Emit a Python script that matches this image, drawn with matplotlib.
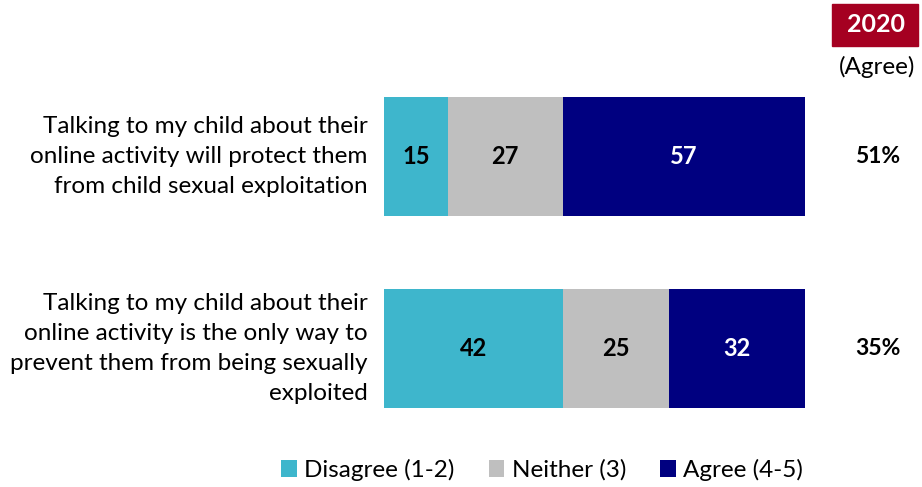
import matplotlib.pyplot as plt
from matplotlib.patches import Rectangle

plt.rcParams["font.family"] = ["Lato", "DejaVu Sans"]

statements = [
    "Talking to my child about their\nonline activity will protect them\nfrom child sexual exploitation",
    "Talking to my child about their\nonline activity is the only way to\nprevent them from being sexually\nexploited",
]
disagree = [15, 42]
neither = [27, 25]
agree = [57, 32]
agree_2020 = ["51%", "35%"]

series = [
    ("Disagree (1-2)", disagree, "#3eb6cc", "black"),
    ("Neither (3)", neither, "#bfbfbf", "black"),
    ("Agree (4-5)", agree, "#000080", "white"),
]

W, H = 922, 487
fig = plt.figure(figsize=(W / 100, H / 100), dpi=100)
ax = fig.add_axes([384 / W, (H - 408) / H, 425 / W, 311 / H])

ypos = list(range(len(statements)))
left = [0] * len(statements)
for name, vals, color, txt_color in series:
    bars = ax.barh(ypos, vals, left=left, height=0.62, color=color, label=name)
    for b, v in zip(bars, vals):
        ax.text(b.get_x() + b.get_width() / 2, b.get_y() + b.get_height() / 2,
                str(v), ha="center", va="center", color=txt_color,
                fontsize=17, fontweight="bold")
    left = [l + v for l, v in zip(left, vals)]

ax.set_xlim(0, 100)
ax.set_ylim(1.31, -0.31)
ax.axis("off")

for y, text, pct in zip(ypos, statements, agree_2020):
    ax.text(-3.8, y, text, ha="right", va="center", fontsize=17.5,
            linespacing=1.52)
    ax.text(116.2, y, pct, ha="center", va="center", fontsize=16.5,
            fontweight="bold")

# 2020 header
fig.patches.append(Rectangle((832 / W, 1 - 46 / H), 86 / W, 42 / H,
                             transform=fig.transFigure, color="#a50021"))
fig.text(876 / W, 1 - 25 / H, "2020", ha="center", va="center",
         color="white", fontsize=18, fontweight="bold")
fig.text(877 / W, 1 - 67 / H, "(Agree)", ha="center", va="center",
         fontsize=17.5)

handles, labels = ax.get_legend_handles_labels()
fig.legend(handles, labels, loc="center", bbox_to_anchor=(542 / W, 1 - 470 / H),
           ncol=3, frameon=False, fontsize=17.5, handlelength=0.65,
           handleheight=0.65, handletextpad=0.3, columnspacing=1.4)

fig.savefig("out.png", dpi=100)
